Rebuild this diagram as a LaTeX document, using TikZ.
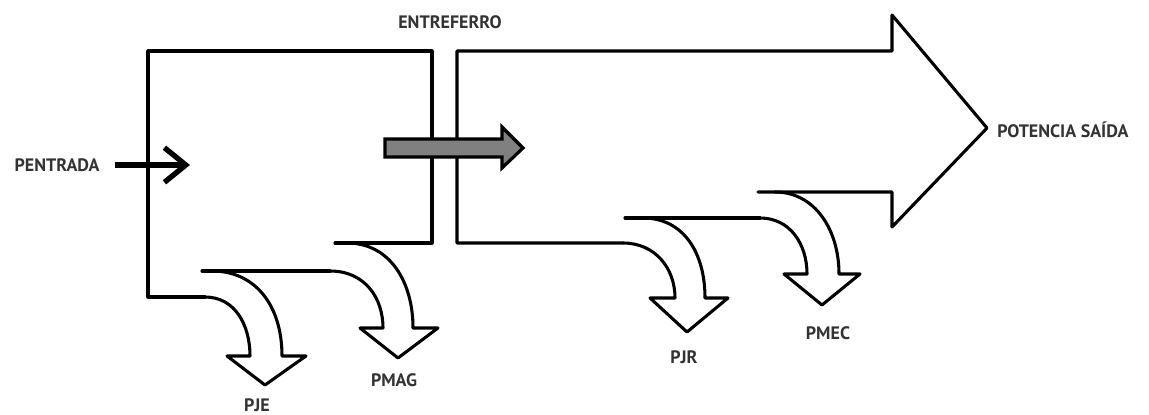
\documentclass[tikz,border=0pt]{standalone}
\usepackage{fontspec}
\setmainfont{PT Sans}
\usetikzlibrary{arrows.meta}
\begin{document}
\begin{tikzpicture}[x=0.75pt,y=-0.75pt,
  flow/.style={line width=2.3pt,line join=round,line cap=round},
  lbl/.style={font=\fontsize{13.5}{15}\selectfont\bfseries,text=black!80,inner sep=0pt},
  grayarrow/.style={line width=2.4pt,line join=miter,fill=black!50}]
\useasboundingbox (0,0) rectangle (1149,414);
% left stator box
\draw[flow] (205,297) -- (148,297) -- (148,51) -- (432,51) -- (432,243) -- (335,243);
% PJE arrow
\draw[flow] (205,297) .. controls (235,297) and (250,325) .. (250,356) -- (227,356) -- (265,385) -- (306,356) -- (282,356)
  .. controls (282,305) and (255,271) .. (212,271);
\draw[flow] (202,271) -- (330,271);
% PMAG arrow
\draw[flow] (330,271) .. controls (365,271) and (383,298) .. (383,328) -- (360,328) -- (398,358) -- (438,328) -- (413,328)
  .. controls (413,282) and (390,243) .. (347,243);
% right rotor box + output arrow
\draw[flow] (623,243) -- (457,243) -- (457,51) -- (892,51) -- (892,15) -- (987,128) -- (892,227) -- (892,192) -- (758,192);
% PJR arrow
\draw[flow] (623,243) .. controls (655,243) and (675,268) .. (675,298) -- (650,298) -- (687,332) -- (728,298) -- (705,298)
  .. controls (705,252) and (683,218) .. (643,218);
\draw[flow] (625,218) -- (760,218);
% PMEC arrow
\draw[flow] (760,218) .. controls (790,218) and (807,244) .. (807,274) -- (784,274) -- (822,305) -- (860,274) -- (839,274)
  .. controls (839,230) and (815,192) .. (775,192);
% gray arrow through the air gap
\draw[grayarrow] (385,139) -- (502,139) -- (502,127) -- (523,148) -- (502,168) -- (502,157) -- (385,157) -- cycle;
% labels
\node[lbl] (pent) at (57,165) {PENTRADA};
\coordinate (pentend) at (190,165);
\draw[line width=4pt,-{Straight Barb[length=16pt,width=26pt,line width=4pt]}] (pent.east) ++(15,0) -- (pentend);
\node[lbl] (entre) at (450,22) {ENTREFERRO};
\node[lbl,anchor=west] (saida) at (997,130) {POTENCIA SAÍDA};
\node[lbl] (pje) at (257,405) {PJE};
\node[lbl] (pmag) at (394,380) {PMAG};
\node[lbl] (pjr) at (684,357) {PJR};
\node[lbl] (pmec) at (828,333) {PMEC};
\end{tikzpicture}
\end{document}
